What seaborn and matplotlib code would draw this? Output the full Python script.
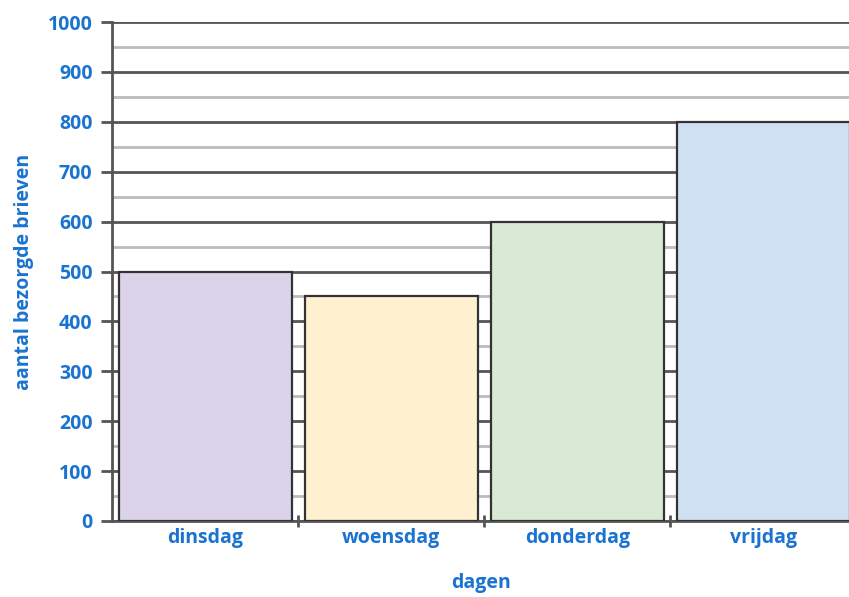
import matplotlib
matplotlib.use("Agg")
import matplotlib.pyplot as plt
import seaborn as sns
import pandas as pd
from matplotlib.ticker import MultipleLocator, FixedLocator, NullFormatter

dagen = ["dinsdag", "woensdag", "donderdag", "vrijdag"]
brieven = [500, 450, 600, 800]
kleuren = ["#dad3e9", "#fff0cf", "#d9e9d3", "#cfe0f2"]

blue = "#1a73d0"

df = pd.DataFrame({"dag": dagen, "brieven": brieven})

sns.set_style("white")
plt.rcParams["font.family"] = ["Open Sans", "DejaVu Sans"]

fig = plt.figure(figsize=(8.49, 5.97), dpi=100)
ax = fig.add_axes([112 / 849, 1 - 521 / 597, 1 - 112 / 849, (521 - 22) / 597])

sns.barplot(data=df, x="dag", y="brieven", hue="dag", palette=kleuren,
            saturation=1, legend=False, width=0.93, edgecolor="#333333",
            linewidth=1.6, ax=ax, zorder=3)

ax.set_ylim(0, 1000)
ax.set_xlim(-0.5, 3.46)

# gridlines: dark at every 100, light at every 50
ax.yaxis.set_major_locator(MultipleLocator(100))
ax.yaxis.set_minor_locator(MultipleLocator(50))
ax.grid(axis="y", which="major", color="#555555", linewidth=2, zorder=0)
ax.grid(axis="y", which="minor", color="#bbbbbb", linewidth=2, zorder=0)
ax.set_axisbelow(True)

for s in ["top", "right"]:
    ax.spines[s].set_visible(False)
for s in ["left", "bottom"]:
    ax.spines[s].set_color("#555555")
    ax.spines[s].set_linewidth(2)

fs = 14
ax.tick_params(axis="y", which="major", length=8, width=2, color="#555555",
               labelsize=fs, labelcolor=blue, pad=6, left=True)
ax.tick_params(axis="y", which="minor", length=0)
ax.xaxis.set_minor_locator(FixedLocator([0.5, 1.5, 2.5]))
ax.xaxis.set_minor_formatter(NullFormatter())
ax.tick_params(axis="x", which="major", length=0, labelsize=fs,
               labelcolor=blue, pad=5)
ax.tick_params(axis="x", which="minor", length=8, width=2, color="#555555",
               bottom=True, direction="inout")
for lbl in ax.get_xticklabels() + ax.get_yticklabels():
    lbl.set_fontweight("bold")

ax.set_xlabel("dagen", color=blue, fontsize=fs, fontweight="bold", labelpad=18)
ax.set_ylabel("aantal bezorgde brieven", color=blue, fontsize=fs,
              fontweight="bold", labelpad=10)

fig.savefig("out.png", dpi=100)
